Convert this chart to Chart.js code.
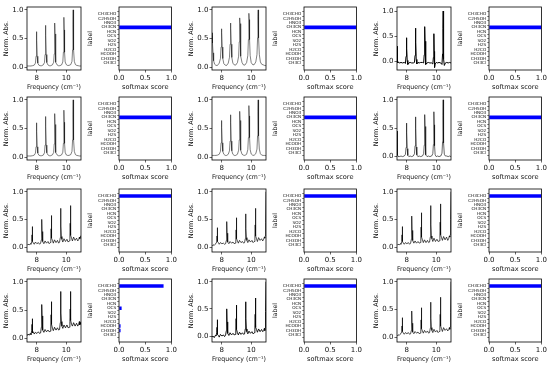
<!DOCTYPE html>
<html>
<head>
<meta charset="utf-8">
<script src="https://cdn.jsdelivr.net/npm/chart.js@4.4.0/dist/chart.umd.min.js"></script>
<style>
  html, body { margin: 0; padding: 0; background: #fff; }
  #fig { position: relative; width: 550px; height: 370px; overflow: hidden; background: #fff; }
  #fig canvas { position: absolute; }
</style>
</head>
<body>
<div id="fig"></div>
<script>
// ---- data ----

const molecules = ['CH3CHO', 'C2H5OH', 'HNO3', 'CH3CN', 'HCN', 'OCS', 'SO2', 'H2S', 'H2CO', 'HCOOH', 'CH3OH', 'CH3Cl'];

const freqTicks = [8, 10];
const absTicks = [0, 0.5, 1];
const scoreTicks = [0, 0.5, 1];

// rows 1-2: clean CH3CN spectra
const cleanFreq = [
  7.35, 7.365, 7.38, 7.395, 7.42, 7.46, 7.53, 7.62, 7.72,
  7.84, 7.92, 7.96, 7.985, 8.0, 8.015, 8.04, 8.08, 8.15, 8.24, 8.34,
  8.45, 8.53, 8.57, 8.595, 8.61, 8.625, 8.65, 8.69, 8.76, 8.85, 8.95,
  9.07, 9.15, 9.19, 9.215, 9.23, 9.245, 9.27, 9.31, 9.38, 9.47, 9.57,
  9.69, 9.77, 9.81, 9.835, 9.85, 9.865, 9.89, 9.93, 10.0, 10.09, 10.19,
  10.31, 10.39, 10.43, 10.455, 10.47, 10.485, 10.51, 10.55, 10.62, 10.71, 10.81,
  10.9, 11.0
];

const absR1A = [
  0.02, 0.02, 0.02, 0.02, 0.02, 0.02, 0.02, 0.02, 0.025,
  0.035, 0.07, 0.19, 0.47, 0.62, 0.47, 0.19, 0.07, 0.035, 0.025, 0.025,
  0.04, 0.08, 0.22, 0.55, 0.73, 0.55, 0.22, 0.08, 0.04, 0.025, 0.025,
  0.04, 0.085, 0.23, 0.58, 0.77, 0.58, 0.23, 0.085, 0.04, 0.025, 0.025,
  0.04, 0.09, 0.26, 0.65, 0.87, 0.65, 0.26, 0.09, 0.045, 0.03, 0.03,
  0.045, 0.1, 0.3, 0.75, 1.0, 0.75, 0.3, 0.1, 0.045, 0.03, 0.025,
  0.02, 0.02
];

const absR1B = [
  0.55, 0.6, 0.55, 0.42, 0.25, 0.11, 0.05, 0.03, 0.03,
  0.07, 0.15, 0.35, 0.6, 0.67, 0.6, 0.35, 0.15, 0.06, 0.035, 0.03,
  0.07, 0.17, 0.4, 0.68, 0.77, 0.68, 0.4, 0.17, 0.07, 0.04, 0.035,
  0.08, 0.19, 0.44, 0.76, 0.86, 0.76, 0.44, 0.19, 0.08, 0.04, 0.035,
  0.08, 0.2, 0.48, 0.83, 0.94, 0.83, 0.48, 0.2, 0.08, 0.045, 0.04,
  0.09, 0.22, 0.51, 0.88, 1.0, 0.88, 0.51, 0.22, 0.09, 0.05, 0.04,
  0.03, 0.025
];

const absR1C = [
  0.3, 0.12, 0.02, -0.03, -0.01, -0.02, -0.03, -0.02, -0.03,
  -0.02, -0.04, 0.1, 0.3, 0.47, 0.25, 0.02, -0.06, -0.03, -0.02, -0.03,
  -0.03, -0.02, 0.12, 0.45, 0.66, 0.38, 0.04, -0.05, -0.02, -0.03, -0.02,
  -0.02, -0.03, 0.13, 0.48, 0.69, 0.4, 0.05, -0.06, -0.03, -0.02, -0.03,
  -0.03, -0.05, 0.08, 0.36, 0.55, 0.2, -0.12, -0.05, -0.02, -0.03, -0.02,
  -0.03, -0.06, 0.15, 0.65, 1.0, 0.5, 0.05, -0.08, -0.03, -0.02, -0.03,
  -0.02, -0.03
];

const absR2A = [
  0.02, 0.02, 0.02, 0.02, 0.02, 0.02, 0.02, 0.02, 0.025,
  0.035, 0.07, 0.18, 0.45, 0.6, 0.45, 0.18, 0.07, 0.035, 0.025, 0.025,
  0.035, 0.075, 0.21, 0.53, 0.71, 0.53, 0.21, 0.075, 0.04, 0.025, 0.025,
  0.04, 0.08, 0.23, 0.57, 0.76, 0.57, 0.23, 0.08, 0.04, 0.025, 0.025,
  0.04, 0.085, 0.24, 0.61, 0.82, 0.61, 0.24, 0.085, 0.04, 0.03, 0.03,
  0.045, 0.1, 0.3, 0.75, 1.0, 0.75, 0.3, 0.1, 0.045, 0.03, 0.025,
  0.02, 0.02
];

const absR2B = [
  0.03, 0.03, 0.03, 0.03, 0.03, 0.03, 0.03, 0.03, 0.035,
  0.05, 0.1, 0.25, 0.52, 0.64, 0.52, 0.25, 0.1, 0.05, 0.03, 0.03,
  0.05, 0.11, 0.28, 0.6, 0.74, 0.6, 0.28, 0.11, 0.05, 0.03, 0.03,
  0.05, 0.12, 0.3, 0.64, 0.8, 0.64, 0.3, 0.12, 0.05, 0.035, 0.03,
  0.05, 0.13, 0.34, 0.72, 0.9, 0.72, 0.34, 0.13, 0.055, 0.035, 0.03,
  0.06, 0.14, 0.37, 0.8, 1.0, 0.8, 0.37, 0.14, 0.06, 0.035, 0.03,
  0.03, 0.025
];

const absR2C = [
  0.45, 0.2, 0.06, 0.02, 0.0, 0.01, 0.0, 0.01, 0.0,
  0.01, 0.04, 0.16, 0.43, 0.59, 0.42, 0.14, 0.02, 0.0, 0.01, 0.0,
  0.01, 0.05, 0.19, 0.51, 0.7, 0.5, 0.17, 0.03, 0.0, 0.01, 0.0,
  0.01, 0.05, 0.2, 0.54, 0.74, 0.53, 0.18, 0.03, 0.0, 0.01, 0.0,
  0.01, 0.05, 0.21, 0.57, 0.79, 0.56, 0.19, 0.03, 0.0, 0.01, 0.0,
  0.01, 0.06, 0.26, 0.72, 1.0, 0.71, 0.24, 0.04, 0.01, 0.01, 0.0,
  0.01, 0.0
];

// rows 3-4: noisy CH3CHO spectra
const noisyFreq = [
  7.35, 7.42, 7.5, 7.57,
  7.62, 7.67, 7.69, 7.7, 7.715, 7.74, 7.78, 7.84, 7.92, 8.02, 8.12, 8.2,
  8.27, 8.32, 8.34, 8.35, 8.365, 8.39, 8.43, 8.49, 8.57, 8.67, 8.77, 8.85,
  8.91, 8.96, 8.98, 8.99, 9.005, 9.03, 9.07, 9.13, 9.21, 9.31, 9.41, 9.49,
  9.55, 9.6, 9.62, 9.63, 9.645, 9.67, 9.71, 9.77, 9.85, 9.95, 10.05, 10.13,
  10.2, 10.25, 10.27, 10.28, 10.295, 10.32, 10.36, 10.42, 10.5, 10.6, 10.7, 10.78,
  10.84, 10.89, 10.92, 10.94, 10.97, 11.0
];

const absR3A = [
  0.03, 0.05, 0.04, 0.06,
  0.05, 0.1, 0.22, 0.37, 0.2, 0.1, 0.07, 0.05, 0.09, 0.06, 0.08, 0.05,
  0.07, 0.13, 0.3, 0.5, 0.28, 0.14, 0.1, 0.06, 0.11, 0.07, 0.1, 0.06,
  0.08, 0.15, 0.33, 0.57, 0.32, 0.16, 0.12, 0.07, 0.13, 0.08, 0.12, 0.07,
  0.09, 0.17, 0.4, 0.7, 0.38, 0.19, 0.14, 0.09, 0.15, 0.1, 0.14, 0.09,
  0.11, 0.2, 0.43, 0.75, 0.4, 0.21, 0.16, 0.11, 0.18, 0.12, 0.16, 0.11,
  0.13, 0.18, 0.15, 0.17, 0.2, 0.2
];

const absR3B = [
  0.02, 0.04, 0.03, 0.05,
  0.05, 0.09, 0.2, 0.35, 0.19, 0.1, 0.08, 0.05, 0.08, 0.06, 0.07, 0.05,
  0.06, 0.12, 0.27, 0.46, 0.25, 0.13, 0.09, 0.06, 0.1, 0.07, 0.09, 0.06,
  0.07, 0.14, 0.31, 0.53, 0.29, 0.15, 0.11, 0.07, 0.12, 0.08, 0.1, 0.07,
  0.08, 0.15, 0.35, 0.6, 0.33, 0.17, 0.12, 0.08, 0.13, 0.09, 0.12, 0.08,
  0.1, 0.18, 0.4, 0.7, 0.38, 0.2, 0.15, 0.1, 0.17, 0.12, 0.15, 0.11,
  0.14, 0.18, 0.16, 0.2, 0.45, 1.0
];

const absR3C = [
  0.03, 0.05, 0.04, 0.06,
  0.05, 0.1, 0.22, 0.37, 0.2, 0.1, 0.07, 0.05, 0.08, 0.06, 0.08, 0.05,
  0.07, 0.14, 0.33, 0.56, 0.3, 0.25, 0.12, 0.07, 0.11, 0.07, 0.1, 0.07,
  0.08, 0.16, 0.36, 0.62, 0.34, 0.18, 0.13, 0.08, 0.13, 0.08, 0.12, 0.08,
  0.09, 0.18, 0.43, 0.75, 0.4, 0.2, 0.15, 0.1, 0.16, 0.1, 0.14, 0.1,
  0.11, 0.2, 0.45, 0.78, 0.42, 0.22, 0.17, 0.12, 0.19, 0.13, 0.18, 0.12,
  0.15, 0.2, 0.18, 0.22, 0.5, 1.0
];

const absR4A = [
  0.05, 0.08, 0.06, 0.09,
  0.07, 0.14, 0.25, 0.35, 0.2, 0.1, 0.12, 0.08, 0.11, 0.09, 0.12, 0.09,
  0.1, 0.2, 0.38, 0.6, 0.4, 0.22, 0.15, 0.11, 0.16, 0.12, 0.15, 0.12,
  0.13, 0.22, 0.42, 0.65, 0.4, 0.25, 0.18, 0.14, 0.2, 0.15, 0.19, 0.15,
  0.16, 0.28, 0.5, 0.83, 0.45, 0.3, 0.22, 0.18, 0.24, 0.19, 0.24, 0.19,
  0.2, 0.3, 0.52, 0.83, 0.45, 0.32, 0.25, 0.22, 0.28, 0.22, 0.27, 0.22,
  0.25, 0.3, 0.24, 0.28, 0.26, 0.29
];

const absR4B = [
  -0.02, 0.0, -0.03, 0.01,
  0.0, 0.06, 0.16, 0.3, 0.14, 0.03, 0.01, -0.02, 0.03, 0.0, 0.02, -0.01,
  0.02, 0.1, 0.28, 0.5, 0.26, 0.1, 0.05, 0.01, 0.06, 0.02, 0.05, 0.02,
  0.03, 0.11, 0.32, 0.57, 0.3, 0.12, 0.06, 0.02, 0.07, 0.03, 0.06, 0.03,
  0.04, 0.13, 0.35, 0.63, 0.32, 0.13, 0.08, 0.04, 0.09, 0.05, 0.08, 0.04,
  0.06, 0.15, 0.4, 0.7, 0.36, 0.16, 0.12, 0.07, 0.13, 0.08, 0.12, 0.08,
  0.1, 0.14, 0.1, 0.15, 0.45, 1.0
];

const absR4C = [
  0.02, 0.04, 0.03, 0.05,
  0.05, 0.09, 0.2, 0.35, 0.19, 0.1, 0.07, 0.05, 0.08, 0.06, 0.08, 0.05,
  0.06, 0.12, 0.27, 0.47, 0.25, 0.13, 0.09, 0.06, 0.1, 0.07, 0.09, 0.06,
  0.07, 0.14, 0.31, 0.53, 0.29, 0.15, 0.11, 0.07, 0.12, 0.08, 0.11, 0.07,
  0.08, 0.16, 0.36, 0.63, 0.34, 0.17, 0.12, 0.08, 0.14, 0.09, 0.12, 0.08,
  0.1, 0.18, 0.41, 0.72, 0.38, 0.2, 0.15, 0.1, 0.17, 0.12, 0.15, 0.11,
  0.13, 0.17, 0.14, 0.18, 0.45, 1.0
];

// softmax scores, same order as molecules
const scoreCH3CN = [0, 0, 0, 1, 0, 0, 0, 0, 0, 0, 0, 0];
const scoreCH3CHO = [1, 0, 0, 0, 0, 0, 0, 0, 0, 0, 0, 0];
const scoreR4A = [0.85, 0, 0, 0, 0, 0.05, 0, 0, 0, 0.03, 0.03, 0];

// ---- layout ----

const panels = [
  [
    { freq: cleanFreq, abs: absR1A, yMin: -0.05, yMax: 1.05, lw: 0.5, score: scoreCH3CN },
    { freq: cleanFreq, abs: absR1B, yMin: -0.05, yMax: 1.05, lw: 0.5, score: scoreCH3CN },
    { freq: cleanFreq, abs: absR1C, yMin: -0.17, yMax: 1.08, lw: 1.0, score: scoreCH3CN },
  ],
  [
    { freq: cleanFreq, abs: absR2A, yMin: -0.05, yMax: 1.05, lw: 0.5, score: scoreCH3CN },
    { freq: cleanFreq, abs: absR2B, yMin: -0.05, yMax: 1.05, lw: 0.5, score: scoreCH3CN },
    { freq: cleanFreq, abs: absR2C, yMin: -0.06, yMax: 1.05, lw: 0.6, score: scoreCH3CN },
  ],
  [
    { freq: noisyFreq, abs: absR3A, yMin: -0.09, yMax: 1.05, lw: 0.7, score: scoreCH3CHO },
    { freq: noisyFreq, abs: absR3B, yMin: -0.09, yMax: 1.05, lw: 0.7, score: scoreCH3CHO },
    { freq: noisyFreq, abs: absR3C, yMin: -0.09, yMax: 1.05, lw: 0.7, score: scoreCH3CHO },
  ],
  [
    { freq: noisyFreq, abs: absR4A, yMin: -0.06, yMax: 1.05, lw: 0.8, score: scoreR4A },
    { freq: noisyFreq, abs: absR4B, yMin: -0.11, yMax: 1.05, lw: 0.9, score: scoreCH3CHO },
    { freq: noisyFreq, abs: absR4C, yMin: -0.09, yMax: 1.05, lw: 0.7, score: scoreCH3CHO },
  ],
];

const SPEC_LEFT = [27, 212, 397];
const BAR_LEFT = [119, 304, 489];
const ROW_TOP = [7, 97, 189, 279];
const FRAME_W = 54;
const FRAME_H = 63;
const PAD_TOP = 6;
const PAD_RIGHT = 5;
const X_AXIS_H = 21;
const SPEC_Y_W = 24;
const BAR_Y_W = 32;

const FONT = 'DejaVu Sans';
const INK = '#111';

Chart.defaults.font.family = FONT;
Chart.defaults.color = INK;

// full box around each axes, like matplotlib spines
const frame = {
  id: 'frame',
  afterDatasetsDraw(chart) {
    const { ctx, chartArea: a } = chart;
    ctx.save();
    ctx.strokeStyle = '#000';
    ctx.lineWidth = 0.8;
    ctx.strokeRect(a.left, a.top, a.right - a.left, a.bottom - a.top);
    ctx.restore();
  }
};

const tickMarks = { drawOnChartArea: false, drawTicks: true, tickLength: 2.5, color: '#000', lineWidth: 0.6 };

const fig = document.getElementById('fig');

function makeCanvas(left, top, w, h) {
  const c = document.createElement('canvas');
  c.width = w;
  c.height = h;
  c.style.left = left + 'px';
  c.style.top = top + 'px';
  c.style.width = w + 'px';
  c.style.height = h + 'px';
  fig.appendChild(c);
  return c;
}

function baseOptions() {
  return {
    responsive: false,
    animation: false,
    devicePixelRatio: 1,
    layout: { padding: { top: PAD_TOP, right: PAD_RIGHT, left: 0, bottom: 0 } },
    plugins: { legend: { display: false }, tooltip: { enabled: false } },
  };
}

function drawSpectrum(p, left, top) {
  const w = SPEC_Y_W + FRAME_W + PAD_RIGHT;
  const h = PAD_TOP + FRAME_H + X_AXIS_H;
  const canvas = makeCanvas(left - SPEC_Y_W, top - PAD_TOP, w, h);
  const options = baseOptions();
  options.scales = {
    x: {
      type: 'linear', min: 7.35, max: 11,
      afterBuildTicks: s => { s.ticks = freqTicks.map(value => ({ value })); },
      afterFit: s => { s.height = X_AXIS_H; },
      ticks: { font: { size: 7 }, padding: 1, maxRotation: 0, autoSkip: false, callback: v => String(v) },
      grid: tickMarks,
      border: { display: false },
      title: { display: true, text: 'Frequency (cm⁻¹)', font: { size: 6.6 }, padding: 0 },
    },
    y: {
      type: 'linear', min: p.yMin, max: p.yMax,
      afterBuildTicks: s => { s.ticks = absTicks.map(value => ({ value })); },
      afterFit: s => { s.width = SPEC_Y_W; },
      ticks: { font: { size: 7 }, padding: 1, autoSkip: false, callback: v => v.toFixed(1) },
      grid: tickMarks,
      border: { display: false },
      title: { display: true, text: 'Norm. Abs.', font: { size: 6.4 }, padding: 0 },
    },
  };
  new Chart(canvas, {
    type: 'scatter',
    data: {
      datasets: [{
        data: p.freq.map((x, i) => ({ x, y: p.abs[i] })),
        showLine: true,
        pointRadius: 0,
        borderColor: '#000',
        borderWidth: p.lw,
        tension: 0,
      }]
    },
    options,
    plugins: [frame],
  });
}

function drawScores(p, left, top) {
  const w = BAR_Y_W + FRAME_W + PAD_RIGHT;
  const h = PAD_TOP + FRAME_H + X_AXIS_H;
  const canvas = makeCanvas(left - BAR_Y_W, top - PAD_TOP, w, h);
  const options = baseOptions();
  options.indexAxis = 'y';
  options.scales = {
    x: {
      type: 'linear', min: 0, max: 1,
      afterBuildTicks: s => { s.ticks = scoreTicks.map(value => ({ value })); },
      afterFit: s => { s.height = X_AXIS_H; },
      ticks: { font: { size: 7 }, padding: 1, maxRotation: 0, autoSkip: false, callback: v => v.toFixed(1) },
      grid: tickMarks,
      border: { display: false },
      title: { display: true, text: 'softmax score', font: { size: 6.6 }, padding: 0 },
    },
    y: {
      type: 'linear', min: -0.99, max: molecules.length - 0.01, reverse: true,
      afterBuildTicks: s => { s.ticks = molecules.map((_, value) => ({ value })); },
      afterFit: s => { s.width = BAR_Y_W; },
      ticks: { font: { size: 4.2 }, padding: 1, autoSkip: false, callback: v => molecules[v] },
      grid: Object.assign({}, tickMarks, { tickLength: 1.8, lineWidth: 0.5 }),
      border: { display: false },
      title: { display: true, text: 'label', font: { size: 6.2 }, padding: 0 },
    },
  };
  new Chart(canvas, {
    type: 'bar',
    data: {
      datasets: [{
        data: p.score.map((x, y) => ({ x, y })),
        backgroundColor: '#0000ff',
        borderWidth: 0,
        barPercentage: 0.8,
        categoryPercentage: 1,
      }]
    },
    options,
    plugins: [frame],
  });
}

panels.forEach((row, r) => {
  row.forEach((p, g) => {
    drawSpectrum(p, SPEC_LEFT[g], ROW_TOP[r]);
    drawScores(p, BAR_LEFT[g], ROW_TOP[r]);
  });
});
</script>
</body>
</html>
